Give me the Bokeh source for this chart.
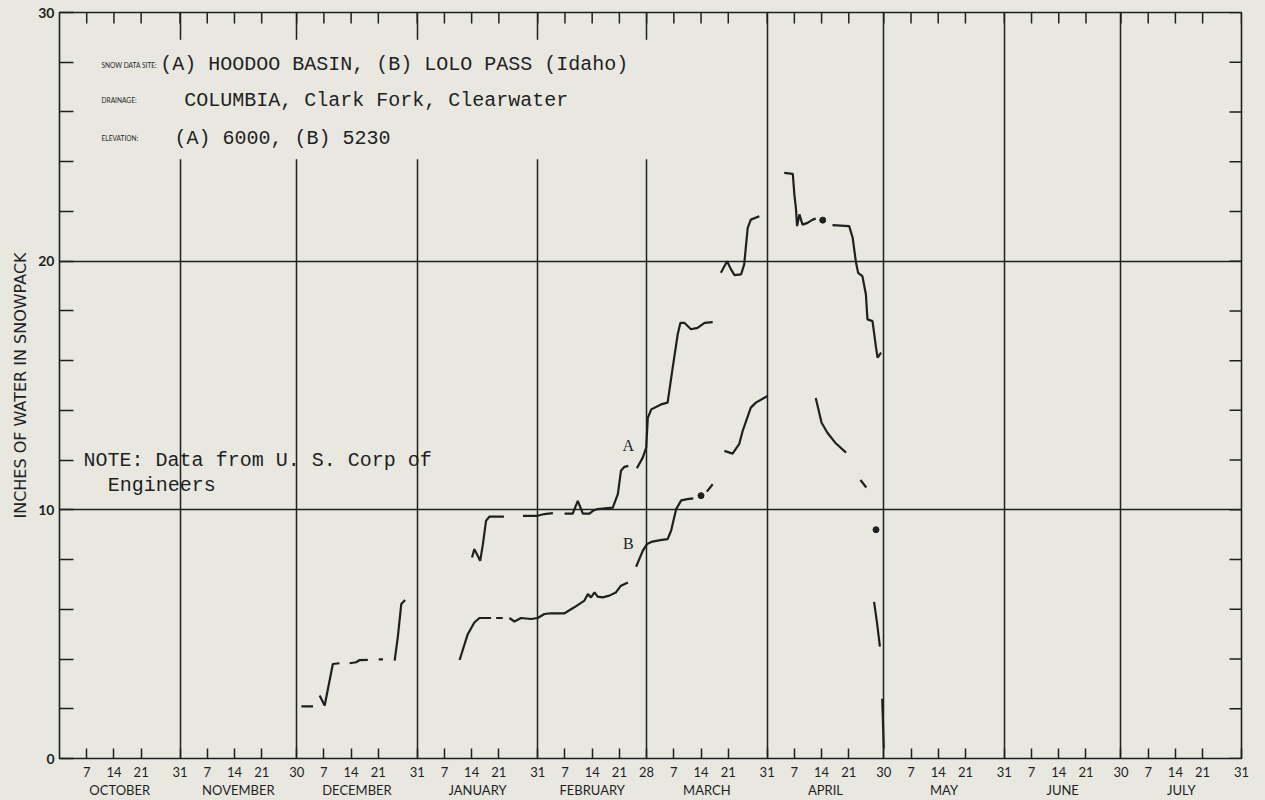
import math
from bokeh.plotting import figure
from bokeh.models import LinearAxis, FixedTicker, Range1d
from bokeh.core.properties import value
from bokeh.embed import file_html
from bokeh.resources import INLINE

nan = float("nan")

# ---------------- data ----------------
months = ["OCTOBER", "NOVEMBER", "DECEMBER", "JANUARY", "FEBRUARY",
          "MARCH", "APRIL", "MAY", "JUNE", "JULY"]
month_days = [31, 30, 31, 31, 28, 31, 30, 31, 30, 31]
week_days = [7, 14, 21]
y_ticks = list(range(0, 31, 2))
y_tick_labels = {0: "0", 10: "10", 20: "20", 30: "30"}

# Series A  (Hoodoo Basin) - days counted from Sept 30, NaN = gap in record
a_day = [62.2, 65.2, nan,
         66.9, 68.2, 70.3, 72.0, nan,
         74.6, 76.3, 77.2, 79.3, nan,
         82.1, 83.2, nan,
         86.2, 87.0, 87.9, 88.9, nan,
         106.1, 106.7, 108.2, 108.9, 109.7, 110.6, 114.3, nan,
         119.2, 121.3, 123.0, 124.7, 126.9, nan,
         129.9, 132.0, 133.3, 134.6, 136.3, 137.2, 138.4, 142.3, 143.6, 144.4, 145.3, 146.3, nan,
         148.5, 150.0, 150.9, 151.3, 152.2, 154.7, 156.4, 157.7, 159.0, 159.7, 160.7, 162.4, 164.1, 165.9, 168.0, nan,
         170.1, 171.7, 172.7, 173.6, 175.3, 176.1, 177.0, 177.8, 180.0, nan,
         186.4, 188.6, 189.0, 189.4, 189.7, 190.3, 191.1, 192.4, 193.7, 194.5, nan,
         198.8, 203.1, 204.0, 204.8, 205.4, 206.5, 207.4, 207.8, 209.1, 210.0, 210.4, 211.3]
a_val = [2.1, 2.1, nan,
         2.53, 2.13, 3.8, 3.83, nan,
         3.83, 3.87, 3.96, 3.97, nan,
         3.99, 3.99, nan,
         3.94, 4.87, 6.21, 6.37, nan,
         8.08, 8.42, 7.95, 8.62, 9.56, 9.73, 9.73, nan,
         9.76, 9.76, 9.76, 9.83, 9.87, nan,
         9.85, 9.85, 10.36, 9.85, 9.85, 9.96, 10.03, 10.09, 10.63, 11.57, 11.73, 11.77, nan,
         11.67, 12.1, 12.5, 13.7, 14.04, 14.24, 14.31, 15.71, 17.06, 17.52, 17.52, 17.26, 17.32, 17.52, 17.55, nan,
         19.53, 20.0, 19.67, 19.44, 19.47, 19.87, 21.34, 21.67, 21.81, nan,
         23.55, 23.51, 22.68, 22.14, 21.41, 21.88, 21.47, 21.54, 21.67, 21.71, nan,
         21.45, 21.41, 20.94, 20.0, 19.53, 19.4, 18.66, 17.66, 17.59, 16.52, 16.12, 16.32]
a_dot_day = [196.3]
a_dot_val = [21.65]

# Series B  (Lolo Pass)
b_day = [102.9, 105.0, 106.7, 108.0, 111.0, nan,
         112.3, 114.0, nan,
         115.7, 117.0, 118.7, 121.3, 123.0, 124.7, 126.4, 129.9, 132.4, 135.0, 135.9, 136.7,
         137.6, 138.4, 139.7, 141.4, 143.1, 144.4, 146.2, nan,
         148.3, 150.0, 151.1, 152.2, 154.5, 156.4, 157.3, 158.6, 159.9, 161.5, 163.0, nan,
         166.5, 168.0, nan,
         171.0, 173.1, 174.8, 175.7, 177.8, 179.1, 181.3, 182.1, nan,
         194.5, 196.0, 197.5, 199.5, 202.3, nan,
         206.0, 207.5, nan,
         209.5, 210.3, 211.0, nan,
         211.6, 212.0]
b_val = [3.96, 5.0, 5.47, 5.65, 5.65, nan,
         5.65, 5.65, nan,
         5.65, 5.51, 5.65, 5.61, 5.65, 5.81, 5.84, 5.84, 6.08, 6.35, 6.61, 6.48,
         6.68, 6.51, 6.48, 6.55, 6.68, 6.95, 7.08, nan,
         7.71, 8.35, 8.62, 8.71, 8.78, 8.82, 9.16, 10.03, 10.38, 10.43, 10.46, nan,
         10.73, 11.03, nan,
         12.37, 12.26, 12.64, 13.17, 14.11, 14.31, 14.51, 14.58, nan,
         14.5, 13.5, 13.1, 12.7, 12.3, nan,
         11.2, 10.9, nan,
         6.3, 5.4, 4.5, nan,
         2.4, 0.4]
b_dot_day = [165.0, 210.0]
b_dot_val = [10.57, 9.2]

label_a = (146.3, 12.6)
label_b = (146.3, 8.66)

# ---------------- derived axis positions ----------------
starts = []
s = 0
for n in month_days:
    starts.append(s)
    s += n
total_days = s
month_ends = [st + n for st, n in zip(starts, month_days)]
x_ticks, x_labels = [], {}
for st, n in zip(starts, month_days):
    for w in week_days:
        x_ticks.append(st + w)
        x_labels[st + w] = str(w)
    x_ticks.append(st + n)
    x_labels[st + n] = str(n)
month_mid = [st + n / 2 for st, n in zip(starts, month_days)]
month_lab = {m: name for m, name in zip(month_mid, months)}

BG = "#e8e8e1"
INK = "#1f1f1f"
SANS = "Lato"
MONO = "Liberation Mono"

W, H = 1249, 796
BL, BR, BT = 50, 16, 8
p = figure(width=W, height=H, x_range=Range1d(0, total_days), y_range=Range1d(0, 30),
           output_backend="svg", toolbar_location=None,
           x_axis_location=None, y_axis_location=None,
           min_border_left=BL, min_border_right=BR, min_border_top=BT, min_border_bottom=30,
           background_fill_color=BG, border_fill_color=BG,
           outline_line_color=INK, outline_line_width=1.6)

p.xgrid.ticker = FixedTicker(ticks=month_ends[:-1])
p.xgrid.grid_line_color = INK
p.xgrid.grid_line_width = 1.5
p.ygrid.ticker = FixedTicker(ticks=[10, 20])
p.ygrid.grid_line_color = INK
p.ygrid.grid_line_width = 1.5


def style_axis(ax):
    ax.axis_line_color = None
    ax.minor_tick_line_color = None
    ax.major_tick_line_color = INK
    ax.major_tick_line_width = 1.5
    ax.major_tick_out = 0
    ax.major_label_text_color = INK
    ax.major_label_text_font = SANS


xb = LinearAxis(ticker=FixedTicker(ticks=x_ticks), major_label_overrides=x_labels)
style_axis(xb)
xb.major_tick_in = 10
xb.major_label_standoff = 8
xb.major_label_text_font_size = "13px"
p.add_layout(xb, "below")

xm = LinearAxis(ticker=FixedTicker(ticks=month_mid), major_label_overrides=month_lab)
style_axis(xm)
xm.major_tick_line_color = None
xm.major_tick_in = 0
xm.major_label_standoff = 2
xm.major_label_text_font_size = "13px"
p.add_layout(xm, "below")

yl = LinearAxis(ticker=FixedTicker(ticks=y_ticks),
                major_label_overrides={t: y_tick_labels.get(t, "") for t in y_ticks})
style_axis(yl)
yl.major_tick_in = 14
yl.major_label_standoff = 5
yl.major_label_text_font_size = "14px"
yl.major_label_text_font_style = "bold"
yl.axis_label = "INCHES OF WATER IN SNOWPACK"
yl.axis_label_text_font = "DejaVu Sans"
yl.axis_label_text_font_size = "16px"
yl.axis_label_text_font_style = "normal"
yl.axis_label_text_color = INK
yl.axis_label_standoff = 5
p.add_layout(yl, "left")

# inward ticks along the top and right edges of the frame
frame_w = W - BL - BR
px_day = frame_w / total_days
top_len = 11 / 24.8
right_len = 12 / px_day
p.segment(x0=x_ticks, y0=[30] * len(x_ticks), x1=x_ticks, y1=[30 - top_len] * len(x_ticks),
          line_color=INK, line_width=1.5)
p.segment(x0=[total_days] * len(y_ticks), y0=y_ticks,
          x1=[total_days - right_len] * len(y_ticks), y1=y_ticks,
          line_color=INK, line_width=1.5)

# background patch behind the site information (interrupts grid lines)
p.quad(left=[2.5], right=[157], bottom=[24.1], top=[28.9], fill_color=BG, line_color=None)

# data
p.line(a_day, a_val, line_color=INK, line_width=2.2)
p.line(b_day, b_val, line_color=INK, line_width=2.2)
p.scatter(a_dot_day, a_dot_val, size=6, color=INK)
p.scatter(b_dot_day, b_dot_val, size=6, color=INK)

p.text(x=[label_a[0], label_b[0]], y=[label_a[1], label_b[1]], text=["A", "B"],
       text_font=value("Liberation Serif"), text_font_size="16px", text_color=INK,
       text_align="center", text_baseline="middle")

# site information
p.text(x=[10.8, 10.8, 10.8], y=[27.9, 26.47, 24.94],
       text=["SNOW DATA SITE:", "DRAINAGE:", "ELEVATION:"],
       text_font=value(SANS), text_font_size="6.6px", text_color=INK,
       text_align="left", text_baseline="middle")
p.text(x=[25.9, 32.1, 29.6], y=[27.9, 26.47, 24.94],
       text=["(A) HOODOO BASIN, (B) LOLO PASS (Idaho)",
             "COLUMBIA, Clark Fork, Clearwater",
             "(A) 6000, (B) 5230"],
       text_font=value(MONO), text_font_size="20px", text_color=INK,
       text_align="left", text_baseline="middle")
p.text(x=[6.2, 12.4], y=[11.97, 10.96],
       text=["NOTE: Data from U. S. Corp of", "Engineers"],
       text_font=value(MONO), text_font_size="20px", text_color=INK,
       text_align="left", text_baseline="middle")

html = file_html(p, INLINE, title="Snowpack")
html = html.replace("<body>", '<body style="background:%s; margin:4px 8px 0 8px;">' % BG)
open("out.html", "w").write(html)
